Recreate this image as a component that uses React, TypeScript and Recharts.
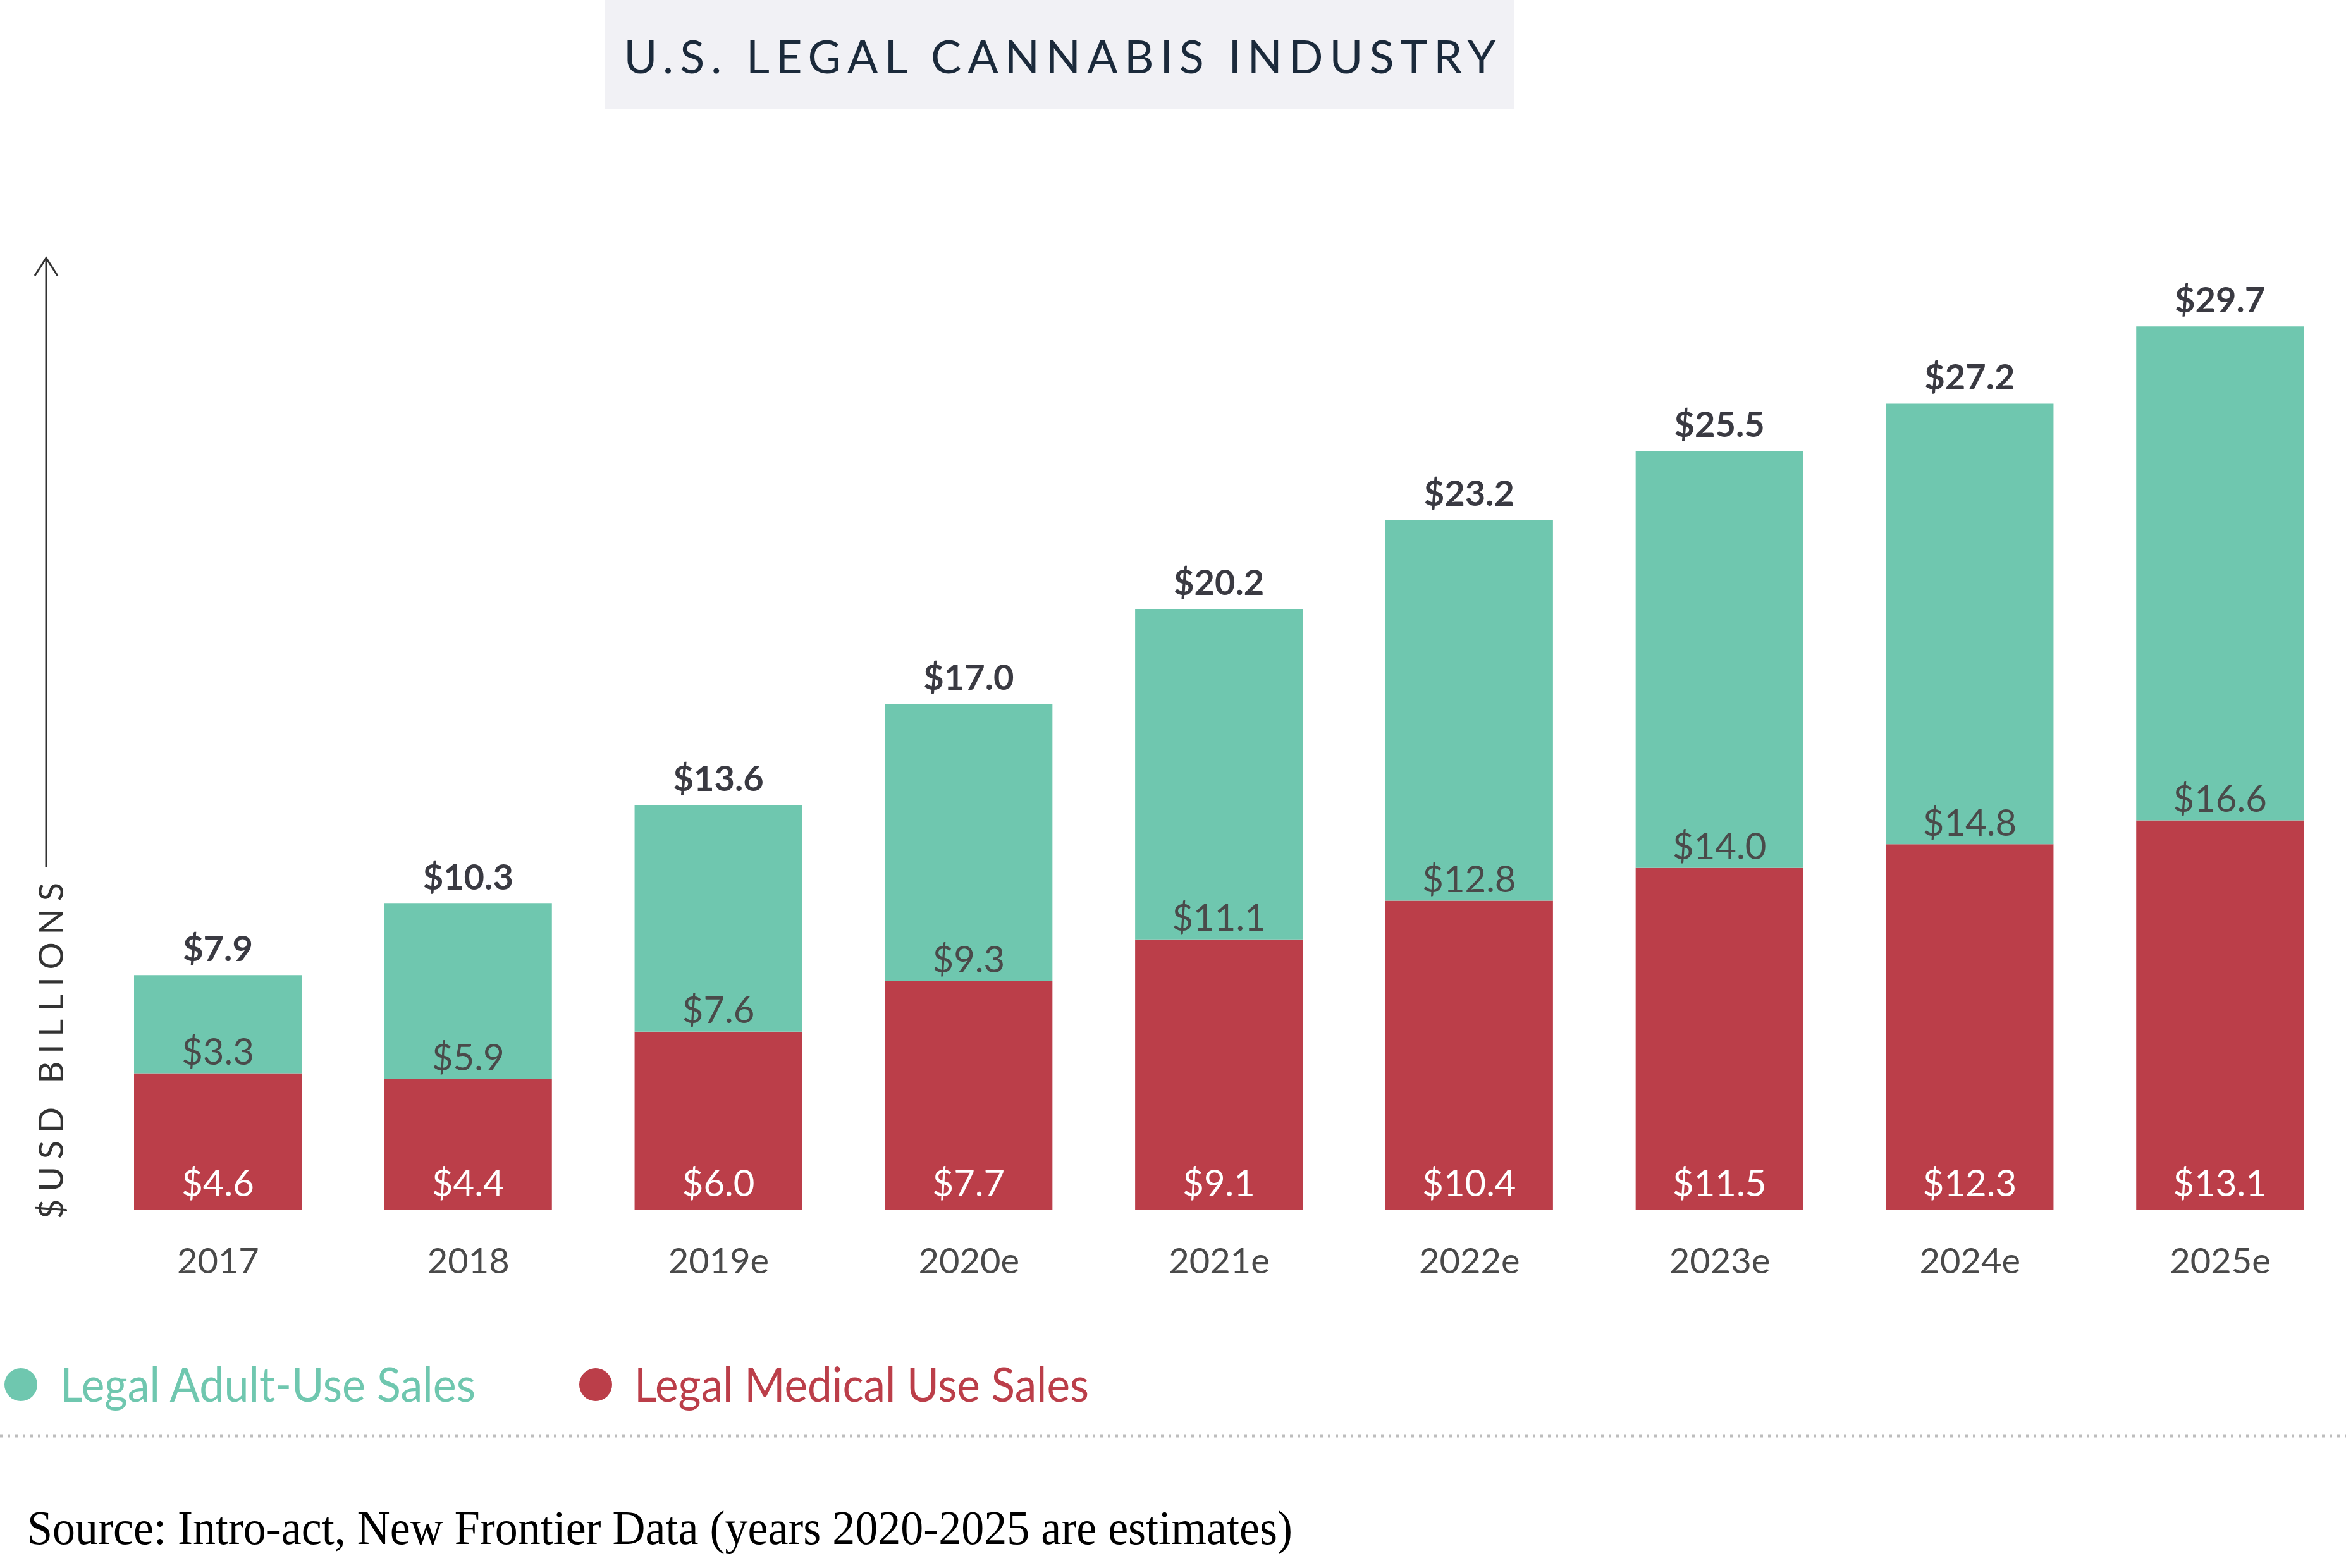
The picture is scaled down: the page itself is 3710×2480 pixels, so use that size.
import React from 'react';
import { BarChart, Bar, XAxis, YAxis, LabelList } from 'recharts';

const years = ['2017', '2018', '2019e', '2020e', '2021e', '2022e', '2023e', '2024e', '2025e'];
const medicalSales = [4.6, 4.4, 6.0, 7.7, 9.1, 10.4, 11.5, 12.3, 13.1];
const adultUseSales = [3.3, 5.9, 7.6, 9.3, 11.1, 12.8, 14.0, 14.8, 16.6];
const totalSales = [7.9, 10.3, 13.6, 17.0, 20.2, 23.2, 25.5, 27.2, 29.7];

const data = years.map((year, i) => ({
  year,
  medical: medicalSales[i],
  adult: adultUseSales[i],
  total: totalSales[i],
}));

const TEAL = '#6fc7af';
const RED = '#bb3e49';
const FONT = 'Lato, "Open Sans", sans-serif';

const money = (v: any) => `$${Number(v).toFixed(1)}`;

const YearTick = (props: any) => {
  const { x, y, payload } = props;
  return (
    <text x={x} y={y + 78} textAnchor="middle" dominantBaseline="central" fontFamily={FONT} fontSize={56} fill="#4a4a4a">
      {payload.value}
    </text>
  );
};

const medicalLabel = (props: any) => {
  const { x, y, width, height, value } = props;
  return (
    <text x={Number(x) + Number(width) / 2} y={Number(y) + Number(height) - 45} textAnchor="middle" dominantBaseline="central" fontFamily={FONT} fontSize={58} fill="#ffffff">
      {money(value)}
    </text>
  );
};

const adultLabel = (props: any) => {
  const { x, y, width, height, value } = props;
  return (
    <text x={Number(x) + Number(width) / 2} y={Number(y) + Number(height) - 36} textAnchor="middle" dominantBaseline="central" fontFamily={FONT} fontSize={58} fill="#4a4a4a">
      {money(value)}
    </text>
  );
};

const totalLabel = (props: any) => {
  const { x, y, width, value } = props;
  return (
    <text x={Number(x) + Number(width) / 2} y={Number(y) - 44} textAnchor="middle" dominantBaseline="central" fontFamily={FONT} fontWeight={700} fontSize={56} fill="#3a3a42">
      {money(value)}
    </text>
  );
};

export default function App() {
  return (
    <div style={{ position: 'absolute', left: 0, top: 0, width: 3710, height: 2480, background: '#ffffff' }}>
      <BarChart
        width={3710}
        height={2480}
        data={data}
        margin={{ top: 408, right: 1, left: 147, bottom: 486 }}
        barSize={265}
      >
        <XAxis dataKey="year" axisLine={false} tickLine={false} tickSize={0} tickMargin={0} height={80} interval={0} tick={<YearTick />} />
        <YAxis hide domain={[0, 32]} />
        <Bar dataKey="medical" stackId="sales" fill={RED} isAnimationActive={false}>
          <LabelList dataKey="medical" content={medicalLabel} />
        </Bar>
        <Bar dataKey="adult" stackId="sales" fill={TEAL} isAnimationActive={false}>
          <LabelList dataKey="adult" content={adultLabel} />
          <LabelList dataKey="total" content={totalLabel} />
        </Bar>
      </BarChart>

      <svg width={3710} height={2480} style={{ position: 'absolute', left: 0, top: 0, pointerEvents: 'none' }}>
        {/* title box */}
        <rect x={956} y={0} width={1438} height={173} fill="#f1f1f5" />
        <text x={1676} y={116} textAnchor="middle" fontFamily={FONT} fontSize={72} fill="#1b2a3b" textLength={1379} lengthAdjust="spacing">
          U.S. LEGAL CANNABIS INDUSTRY
        </text>

        {/* y axis arrow + label */}
        <line x1={73} y1={1372} x2={73} y2={409} stroke="#333" strokeWidth={3} />
        <polyline points="55,436 73,408 91,436" fill="none" stroke="#333" strokeWidth={3} />
        <text
          x={0}
          y={0}
          transform="translate(100,1662) rotate(-90)"
          textAnchor="middle"
          fontFamily={FONT}
          fontSize={54}
          fill="#333"
          textLength={532}
          lengthAdjust="spacing"
        >
          $USD BILLIONS
        </text>

        {/* legend */}
        <circle cx={33} cy={2190} r={26} fill={TEAL} />
        <text x={95} y={2217} fontFamily={FONT} fontSize={76} fill={TEAL} textLength={657} lengthAdjust="spacingAndGlyphs">
          Legal Adult-Use Sales
        </text>
        <circle cx={942} cy={2190} r={26} fill={RED} />
        <text x={1003} y={2217} fontFamily={FONT} fontSize={76} fill={RED} textLength={719} lengthAdjust="spacingAndGlyphs">
          Legal Medical Use Sales
        </text>

        {/* dotted rule */}
        <line x1={0} y1={2271} x2={3710} y2={2271} stroke="#bdbdbd" strokeWidth={5} strokeDasharray="4 8" />

        {/* source */}
        <text x={43} y={2442} fontFamily='"Liberation Serif", "Times New Roman", serif' fontSize={76} fill="#000" textLength={2001} lengthAdjust="spacingAndGlyphs">
          Source: Intro-act, New Frontier Data (years 2020-2025 are estimates)
        </text>
      </svg>
    </div>
  );
}
